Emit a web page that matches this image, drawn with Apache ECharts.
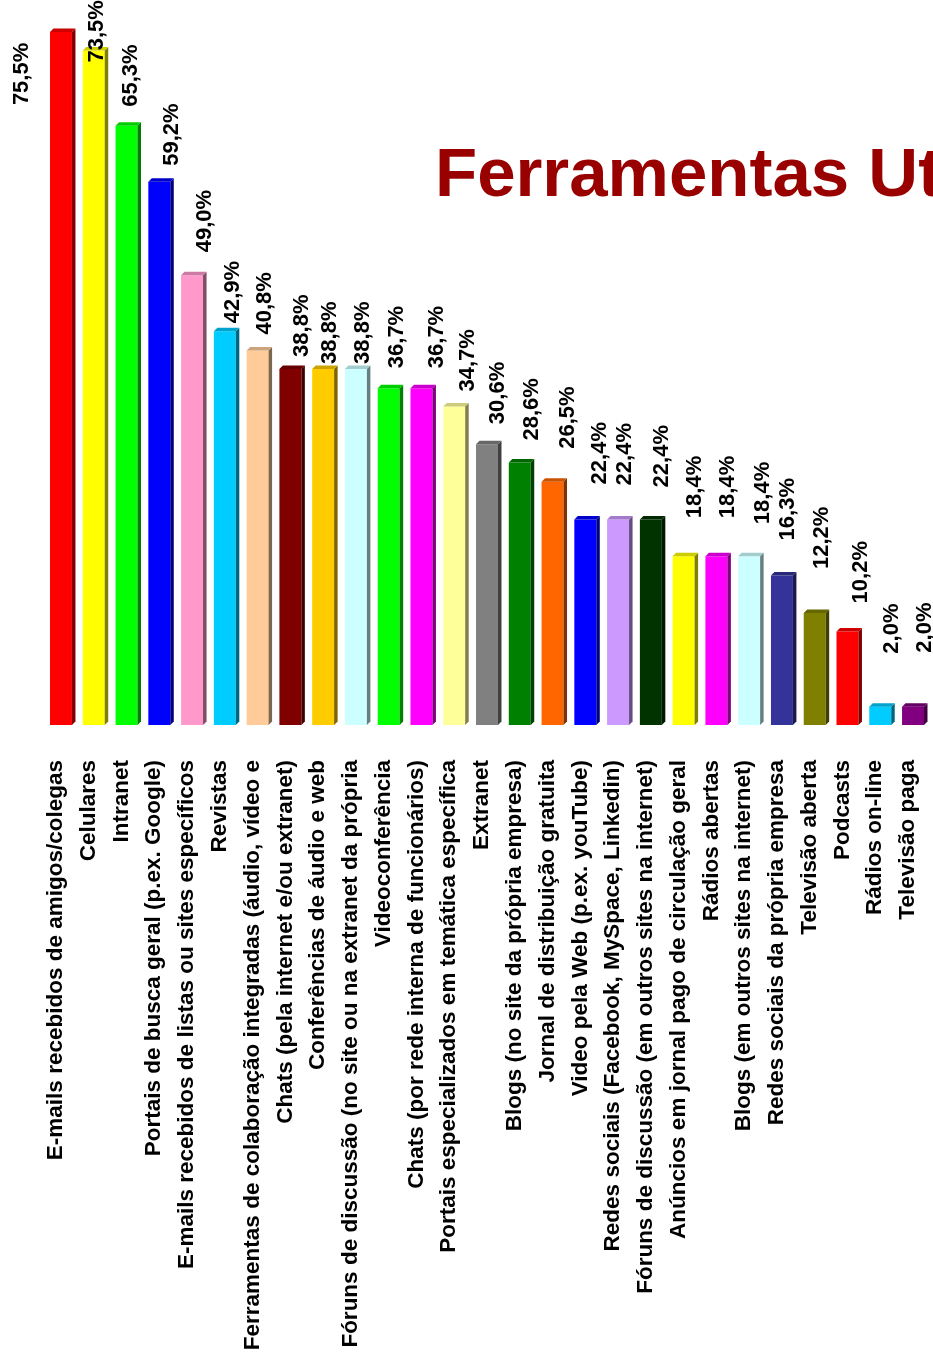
<!DOCTYPE html>
<html>
<head>
<meta charset="utf-8">
<script src="https://cdn.jsdelivr.net/npm/echarts@6/dist/echarts.min.js"></script>
<style>
    html, body { margin: 0; padding: 0; background: #fff; }
    #chart { width: 933px; height: 1360px; }
</style>
</head>
<body>
<div id="chart"></div>
<script>
// categorias e valores (%)
const categories = [
    'E-mails recebidos de amigos/colegas',
    'Celulares',
    'Intranet',
    'Portais de busca geral (p.ex. Google)',
    'E-mails recebidos de listas ou sites específicos',
    'Revistas',
    'Ferramentas de colaboração integradas (áudio, vídeo e',
    'Chats (pela internet e/ou extranet)',
    'Conferências de áudio e web',
    'Fóruns de discussão (no site ou na extranet da própria',
    'Videoconferência',
    'Chats (por rede interna de funcionários)',
    'Portais especializados em temática específica',
    'Extranet',
    'Blogs (no site da própria empresa)',
    'Jornal de distribuição gratuita',
    'Video pela Web (p.ex. youTube)',
    'Redes sociais (Facebook, MySpace, Linkedin)',
    'Fóruns de discussão (em outros sites na internet)',
    'Anúncios em jornal pago de circulação geral',
    'Rádios abertas',
    'Blogs (em outros sites na internet)',
    'Redes sociais da própria empresa',
    'Televisão aberta',
    'Podcasts',
    'Rádios on-line',
    'Televisão paga'
];
const values = [75.5, 73.5, 65.3, 59.2, 49.0, 42.9, 40.8, 38.8, 38.8, 38.8, 36.7, 36.7, 34.7,
    30.6, 28.6, 26.5, 22.4, 22.4, 22.4, 18.4, 18.4, 18.4, 16.3, 12.2, 10.2, 2.0, 2.0];
const colors = ['#FF0000', '#FFFF00', '#00FF00', '#0000FF', '#FF99CC', '#00CCFF', '#FFCC99',
    '#800000', '#FFCC00', '#CCFFFF', '#00FF00', '#FF00FF', '#FFFF99', '#808080', '#008000',
    '#FF6600', '#0000FF', '#CC99FF', '#003300', '#FFFF00', '#FF00FF', '#CCFFFF', '#333399',
    '#808000', '#FF0000', '#00CCFF', '#800080'];

// deslocamento dos rótulos de valor (px), como no original
const labelDx = [-39, 3, 4, 13, 13, 8, 7, 12, 7, 7, 8, 15, 14, 11, 12, 15, 15, 7, 11, 11, 12, 14, 6, 7, 13, 12, 12];
const labelDy = [73, 12, -19, -16, -23, -8, -16, -12, -5, -5, -20, -20, -15, -20, -22, -33, -35, -34, -32, -38, -38, -32, -35, -44, -28, -53, -54];

const shade = (hex, f) => {
    const n = parseInt(hex.slice(1), 16);
    const r = Math.round(((n >> 16) & 255) * f);
    const g = Math.round(((n >> 8) & 255) * f);
    const b = Math.round((n & 255) * f);
    return 'rgb(' + r + ',' + g + ',' + b + ')';
};

const fmt = v => v.toFixed(1).replace('.', ',') + '%';

const chart = echarts.init(document.getElementById('chart'));

chart.setOption({
    animation: false,
    title: {
        text: 'Ferramentas Utilizadas',
        left: 435,
        top: 142,
        padding: 0,
        textStyle: {
            color: '#990000',
            fontSize: 69,
            fontWeight: 'bold',
            fontFamily: '"Liberation Sans", Arial, sans-serif'
        }
    },
    grid: {
        left: 39.6,
        right: 8.6,
        top: 0,
        bottom: 635
    },
    xAxis: {
        type: 'category',
        data: categories,
        axisLine: {show: false},
        axisTick: {show: false},
        axisLabel: {
            interval: 0,
            rotate: 90,
            margin: 35,
            color: '#000',
            fontSize: 22.5,
            fontWeight: 'bold',
            fontFamily: '"Liberation Sans", Arial, sans-serif'
        }
    },
    yAxis: {
        type: 'value',
        min: 0,
        max: 79,
        show: false,
        splitLine: {show: false}
    },
    series: [{
        type: 'custom',
        clip: false,
        data: values.map((v, i) => [i, v]),
        encode: {x: 0, y: 1},
        renderItem: (params, api) => {
            const i = params.dataIndex;
            const base = api.coord([i, 0]);
            const top = api.coord([i, api.value(1)]);
            const w = api.size([1, 0])[0] * 0.67;
            const d = 3.5;
            const cx = base[0] + 5;
            const x0 = cx - w / 2;
            const x1 = cx + w / 2;
            const c = colors[i];
            return {
                type: 'group',
                children: [
                    {
                        type: 'rect',
                        shape: {x: x0, y: top[1], width: w, height: base[1] - top[1]},
                        style: {fill: c}
                    },
                    {
                        type: 'polygon',
                        shape: {points: [[x1, top[1]], [x1 + d, top[1] - d], [x1 + d, base[1] - d], [x1, base[1]]]},
                        style: {fill: shade(c, 0.5)}
                    },
                    {
                        type: 'polygon',
                        shape: {points: [[x0, top[1]], [x0 + d, top[1] - d], [x1 + d, top[1] - d], [x1, top[1]]]},
                        style: {fill: shade(c, 0.8)}
                    },
                    {
                        type: 'text',
                        x: cx + labelDx[i],
                        y: top[1] + labelDy[i],
                        rotation: Math.PI / 2,
                        style: {
                            text: fmt(values[i]),
                            fill: '#000',
                            font: 'bold 22px "Liberation Sans", Arial, sans-serif',
                            align: 'left',
                            verticalAlign: 'middle'
                        }
                    }
                ]
            };
        }
    }]
});
</script>
</body>
</html>
